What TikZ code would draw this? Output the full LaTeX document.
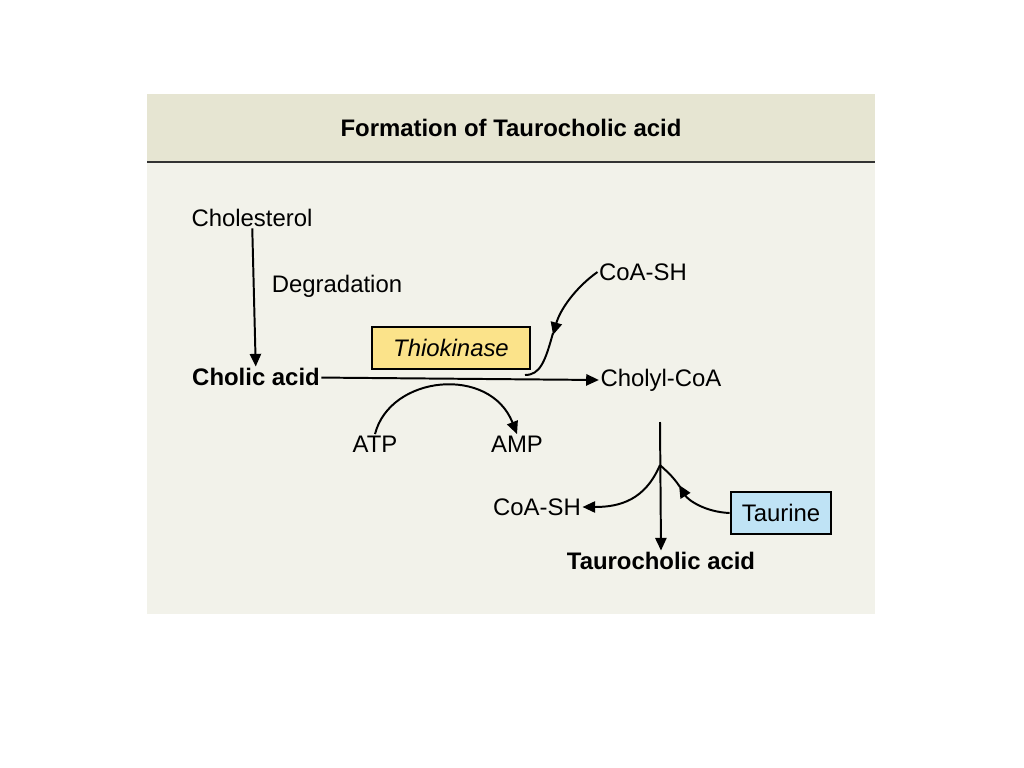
\documentclass[tikz,border=0pt]{standalone}
\usepackage{fontspec}
\setmainfont{Liberation Sans}
\usetikzlibrary{arrows.meta}
\definecolor{panelbg}{HTML}{F2F2EA}
\definecolor{headbg}{HTML}{E6E5D2}
\definecolor{enzyme}{HTML}{FBE38A}
\definecolor{aminobox}{HTML}{BFE3F5}
\tikzset{
  lbl/.style={font=\fontsize{17}{20}\selectfont, inner sep=1pt},
  bold/.style={lbl, font=\fontsize{17}{20}\selectfont\bfseries},
  flow/.style={-{Triangle[length=9pt,width=8pt]}, line width=1.4pt},
  boxed/.style={lbl, draw, line width=1.4pt, minimum height=1.05cm, inner xsep=8pt}
}
\begin{document}
\begin{tikzpicture}[x=0.025cm, y=-0.025cm]
  \useasboundingbox (0,0) rectangle (1024,768);
  % panel and header
  \fill[panelbg] (147,94) rectangle (875,614);
  \fill[headbg] (147,94) rectangle (875,162);
  \draw[line width=2pt, black!80] (147,162) -- (875,162);
  \node[bold] (title) at (511,128) {Formation of Taurocholic acid};

  % degradation step
  \node[lbl] (chol) at (252,218) {Cholesterol};
  \node[bold] (cholic) at (256,377) {Cholic acid};
  \node[lbl] (degr) at (337,286) {Degradation};
  \draw[flow] (chol) -- (cholic);

  % thiokinase step
  \node[lbl] (cholyl) at (661,380) {Cholyl-CoA};
  \node[boxed, fill=enzyme, minimum width=3.95cm] (thio) at (451,348) {\itshape Thiokinase};
  \node[lbl] (coa1) at (643,272) {CoA-SH};
  \node[lbl] (atp) at (375,444) {ATP};
  \node[lbl] (amp) at (517,444) {AMP};
  \coordinate (join1) at (525,375);
  \draw[flow] (cholic) -- (cholyl.west);
  \draw[flow] (coa1.west) .. controls (575,288) and (560,310) .. (553,335);
  \draw[line width=1.4pt] (553,333) .. controls (545,362) and (540,375) .. (join1);
  \draw[flow] (atp.north) .. controls (390,375) and (490,365) .. (amp.north);

  % taurine conjugation
  \node[bold] (tauro) at (661,561) {Taurocholic acid};
  \node[boxed, fill=aminobox, minimum width=2.45cm] (taurine) at (781,513) {Taurine};
  \node[lbl] (coa2) at (537,507) {CoA-SH};
  \coordinate (top2) at (660,422);
  \coordinate (mid2) at (660,465);
  \draw[flow] (top2) -- (tauro.north);
  \draw[flow] (mid2) .. controls (645,500) and (620,507) .. (coa2.east);
  \draw[flow] (taurine.west) .. controls (705,512) and (688,500) .. (679,485);
  \draw[line width=1.4pt] (680,487) .. controls (672,475) and (665,470) .. (mid2);
\end{tikzpicture}
\end{document}
